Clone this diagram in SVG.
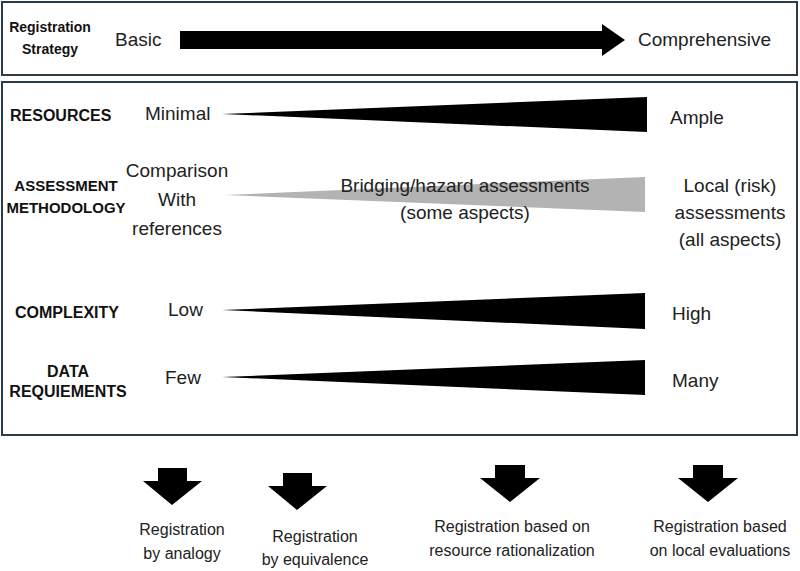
<svg xmlns="http://www.w3.org/2000/svg" width="800" height="571" viewBox="0 0 800 571">
<style>
.box{fill:none;stroke:#2b3b4b;stroke-width:2}
.lb{font-family:"Liberation Sans",Arial,sans-serif;font-weight:bold;font-size:14px;fill:#111}
.lb2{font-family:"Liberation Sans",Arial,sans-serif;font-weight:bold;font-size:16px;fill:#111}
.lb3{font-family:"Liberation Sans",Arial,sans-serif;font-weight:bold;font-size:15px;fill:#111}
.t{font-family:"Liberation Sans",Arial,sans-serif;font-size:19px;fill:#222}
.s{font-family:"Liberation Sans",Arial,sans-serif;font-size:16px;fill:#222}
</style>
<rect width="800" height="571" fill="#fff"/>
<g id="strategy">
<rect class="box" x="2" y="2" width="795" height="73"/>
<text class="lb" x="50" y="32" text-anchor="middle">Registration</text>
<text class="lb" x="50" y="54" text-anchor="middle">Strategy</text>
<text class="t" x="115" y="46">Basic</text>
<polygon points="180,31 602,31 602,24 625,40 602,56 602,49 180,49" fill="#000"/>
<text class="t" x="638" y="46">Comprehensive</text>
</g>
<g id="factors">
<rect class="box" x="2" y="82" width="795" height="353"/>
</g>
<g id="resources">
<text class="lb2" x="10" y="121">RESOURCES</text>
<text class="t" x="145" y="120">Minimal</text>
<polygon points="222,114 647,97 647,132" fill="#000"/>
<text class="t" x="670" y="124">Ample</text>
</g>
<g id="assessment">
<text class="lb3" x="66" y="191" text-anchor="middle">ASSESSMENT</text>
<text class="lb3" x="66" y="213" text-anchor="middle">METHODOLOGY</text>
<text class="t" x="177" y="177" text-anchor="middle">Comparison</text>
<text class="t" x="177" y="206" text-anchor="middle">With</text>
<text class="t" x="177" y="235" text-anchor="middle">references</text>
<polygon points="225,195 645,177 645,212" fill="#b3b3b3"/>
<text class="t" x="465" y="192" text-anchor="middle">Bridging/hazard assessments</text>
<text class="t" x="465" y="219" text-anchor="middle">(some aspects)</text>
<text class="t" x="730" y="192" text-anchor="middle">Local (risk)</text>
<text class="t" x="730" y="219" text-anchor="middle">assessments</text>
<text class="t" x="730" y="246" text-anchor="middle">(all aspects)</text>
</g>
<g id="complexity">
<text class="lb2" x="15" y="318">COMPLEXITY</text>
<text class="t" x="168" y="316">Low</text>
<polygon points="222,310 645,293 645,329" fill="#000"/>
<text class="t" x="672" y="320">High</text>
</g>
<g id="data">
<text class="lb2" x="68" y="377" text-anchor="middle">DATA</text>
<text class="lb2" x="68" y="397" text-anchor="middle">REQUIEMENTS</text>
<text class="t" x="165" y="384">Few</text>
<polygon points="222,377 645,360 645,395" fill="#000"/>
<text class="t" x="672" y="387">Many</text>
</g>
<g id="outcomes">
<polygon points="158,468 187,468 187,481 202,481 172,505 143,481 158,481" fill="#000"/>
<polygon points="283,473 312,473 312,486 327,486 297,510 268,486 283,486" fill="#000"/>
<polygon points="495,465 525,465 525,478 540,478 510,502 480,478 495,478" fill="#000"/>
<polygon points="693,465 723,465 723,478 738,478 708,502 678,478 693,478" fill="#000"/>
<text class="s" x="182" y="535" text-anchor="middle">Registration</text>
<text class="s" x="182" y="559" text-anchor="middle">by analogy</text>
<text class="s" x="315" y="542" text-anchor="middle">Registration</text>
<text class="s" x="315" y="565" text-anchor="middle">by equivalence</text>
<text class="s" x="512" y="532" text-anchor="middle">Registration based on</text>
<text class="s" x="512" y="556" text-anchor="middle">resource rationalization</text>
<text class="s" x="720" y="532" text-anchor="middle">Registration based</text>
<text class="s" x="720" y="556" text-anchor="middle">on local evaluations</text>
</g>
</svg>
